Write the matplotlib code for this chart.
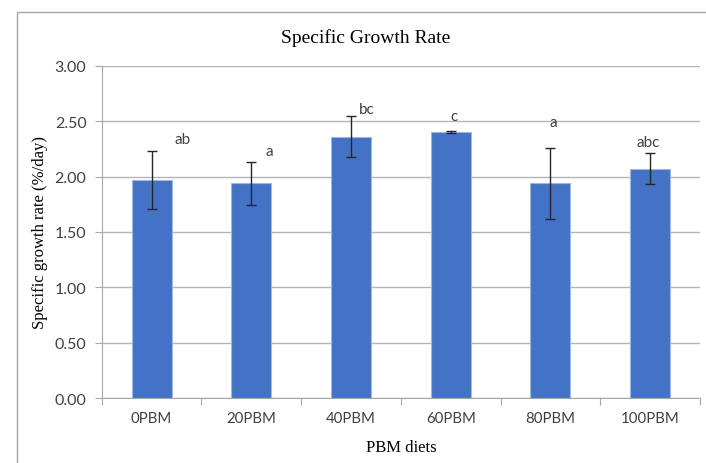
import numpy as np
import matplotlib
matplotlib.use("Agg")
import matplotlib.pyplot as plt
from matplotlib.patches import Rectangle

# data
diets = ["0PBM", "20PBM", "40PBM", "60PBM", "80PBM", "100PBM"]
sgr = [1.97, 1.94, 2.36, 2.40, 1.94, 2.07]
sgr_err = [0.26, 0.195, 0.185, 0.01, 0.32, 0.14]
letters = ["ab", "a", "bc", "c", "a", "abc"]
letter_y = [2.34, 2.23, 2.61, 2.55, 2.49, 2.31]
letter_dx = [0.31, 0.18, 0.16, 0.03, 0.03, -0.02]

fig = plt.figure(figsize=(7.06, 4.64), dpi=100)
ax = fig.add_axes([0.1441, 0.1394, 0.8474, 0.7169])

x = np.arange(len(diets))
ax.bar(x, sgr, width=0.4, color="#4472C4", edgecolor="#9DB8E6", linewidth=0.8, zorder=2)
ax.errorbar(x, sgr, yerr=sgr_err, fmt="none", ecolor="#262626", elinewidth=1,
            capsize=3.5, capthick=1, zorder=3)

for i, lab in enumerate(letters):
    ax.text(x[i] + letter_dx[i], letter_y[i], lab, ha="center", va="center",
            fontsize=11, family="Lato", color="#404040")

ax.set_xlim(-0.5, len(diets) - 0.5)
ax.set_ylim(0, 3)
ax.set_yticks(np.arange(0, 3.01, 0.5))
ax.set_yticklabels([f"{v:.2f}" for v in np.arange(0, 3.01, 0.5)],
                   family="Lato", fontsize=11.5, color="#404040")
ax.set_xticks(x)
ax.set_xticklabels(diets, family="Lato", fontsize=10.8, color="#404040")
ax.set_xticks(np.arange(-0.5, len(diets)), minor=True)
ax.tick_params(axis="x", which="major", length=0, pad=9)
ax.tick_params(axis="x", which="minor", length=5, color="#a6a6a6", width=0.8)
ax.tick_params(axis="y", length=5, color="#a6a6a6", width=0.8, pad=6)

ax.grid(axis="y", color="#b4b4b4", linewidth=1, zorder=0)
ax.set_axisbelow(True)
for s in ["top", "right"]:
    ax.spines[s].set_visible(False)
for s in ["left", "bottom"]:
    ax.spines[s].set_color("#a6a6a6")
    ax.spines[s].set_linewidth(0.8)

ax.set_xlabel("PBM diets", family="Liberation Serif", fontsize=12, labelpad=10)
ax.set_ylabel("Specific growth rate (%/day)", family="Liberation Serif", fontsize=12,
              labelpad=5)
fig.text(0.5184, 0.918, "Specific Growth Rate", ha="center", va="center",
         family="Liberation Serif", fontsize=14)

# outer chart border
fig.patches.append(Rectangle((0.0237, -0.05), 1.1, 0.9713 + 0.05, transform=fig.transFigure,
                             fill=False, edgecolor="#a6a6a6", linewidth=1))

fig.savefig("out.png", dpi=100)
